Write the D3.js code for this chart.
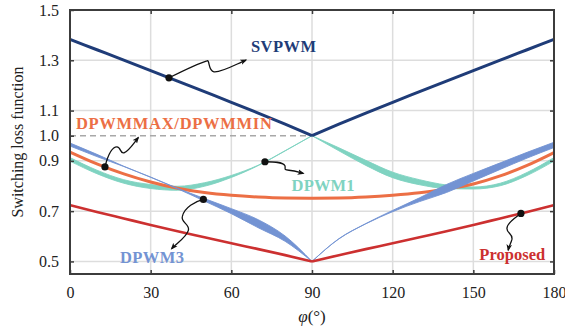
<!DOCTYPE html>
<html>
<head>
<meta charset="utf-8">
<script src="https://cdn.jsdelivr.net/npm/d3@7"></script>
<style>
  body { margin: 0; background: #fff; }
  svg { display: block; }
  text { font-family: "Liberation Serif", "Times New Roman", serif; }
</style>
</head>
<body>
<svg id="chart" width="565" height="335"></svg>
<script>
// Load angle (degrees) at which each curve is sampled
const phi = [0, 10, 20, 30, 40, 50, 60, 70, 80, 90, 100, 110, 120, 130, 140, 150, 160, 170, 180];

// Switching loss function of each modulation scheme
const svpwm      = [1.383, 1.342, 1.301, 1.259, 1.217, 1.175, 1.133, 1.090, 1.046, 1.000,
                    1.046, 1.090, 1.133, 1.175, 1.217, 1.259, 1.301, 1.342, 1.383];
const dpwmMaxMin = [0.935, 0.888, 0.848, 0.816, 0.791, 0.774, 0.763, 0.756, 0.752, 0.751,
                    0.752, 0.756, 0.763, 0.773, 0.788, 0.808, 0.840, 0.882, 0.933];
const proposed   = [0.724, 0.697, 0.671, 0.645, 0.620, 0.596, 0.572, 0.549, 0.525, 0.500,
                    0.525, 0.549, 0.572, 0.596, 0.620, 0.645, 0.671, 0.697, 0.724];

// DPWM1 and DPWM3 spread over a band (lower / upper bound)
const dpwm1Lo = [0.899, 0.849, 0.811, 0.790, 0.783, 0.799, 0.834, 0.8812, 0.9395, 1.000,
                 0.940, 0.882, 0.833, 0.805, 0.790, 0.788, 0.801, 0.842, 0.899];
const dpwm1Hi = [0.913, 0.863, 0.825, 0.806, 0.799, 0.813, 0.842, 0.8828, 0.9405, 1.000,
                 0.952, 0.902, 0.855, 0.825, 0.804, 0.796, 0.811, 0.854, 0.913];
const dpwm3Lo = [0.959, 0.917, 0.8775, 0.8345, 0.789, 0.740, 0.690, 0.634, 0.580, 0.500,
                 0.5895, 0.6495, 0.698, 0.738, 0.774, 0.820, 0.866, 0.911, 0.953];
const dpwm3Hi = [0.971, 0.926, 0.8785, 0.8355, 0.791, 0.750, 0.710, 0.666, 0.601, 0.500,
                 0.5905, 0.6505, 0.703, 0.753, 0.806, 0.850, 0.892, 0.934, 0.974];

// Axis ticks
const xTicks = [0, 30, 60, 90, 120, 150, 180];
const yTicks = [0.5, 0.7, 0.9, 1.0, 1.1, 1.3, 1.5];
const yGrid  = [0.5, 0.7, 0.9, 1.1, 1.3];

const colors = {
  svpwm: "#1f3c78",
  dpwmMaxMin: "#ec6f45",
  dpwm1: "#7fd3c1",
  dpwm3: "#7393d3",
  proposed: "#cc3030",
  frame: "#3c3c3c",
  grid: "#dddddd",
  ref: "#a8a8a8"
};

const svg = d3.select("#chart");
const x = d3.scaleLinear().domain([0, 180]).range([70, 554]);
const y = d3.scaleLinear().domain([0.45, 1.5]).range([274, 10]);

// Each curve has a cusp at 90 deg, so it is drawn as two smooth halves
const mid = phi.indexOf(90);
function halves(rows) {
  return [rows.slice(0, mid + 1), rows.slice(mid)];
}
const pts = vals => phi.map((p, i) => [p, vals[i]]);
const band = (lo, hi) => phi.map((p, i) => [p, lo[i], hi[i]]);

const line = d3.line().x(d => x(d[0])).y(d => y(d[1])).curve(d3.curveMonotoneX);
const area = d3.area().x(d => x(d[0])).y0(d => y(d[1])).y1(d => y(d[2])).curve(d3.curveMonotoneX);

// Grid
const grid = svg.append("g");
grid.selectAll(".gx").data(xTicks.slice(1, -1)).join("line")
  .attr("x1", d => x(d)).attr("x2", d => x(d))
  .attr("y1", y.range()[1]).attr("y2", y.range()[0])
  .attr("stroke", colors.grid).attr("stroke-width", 1.5);
grid.selectAll(".gy").data(yGrid).join("line")
  .attr("x1", x.range()[0]).attr("x2", x.range()[1])
  .attr("y1", d => y(d)).attr("y2", d => y(d))
  .attr("stroke", colors.grid).attr("stroke-width", 1.5);

// Reference level 1.0 (dashed), up to 90 deg
svg.append("line")
  .attr("x1", x(0)).attr("x2", x(90))
  .attr("y1", y(1.0)).attr("y2", y(1.0))
  .attr("stroke", colors.ref).attr("stroke-width", 1.5)
  .attr("stroke-dasharray", "6,4");

const curves = svg.append("g");

// DPWM1 band
halves(band(dpwm1Lo, dpwm1Hi)).forEach(h => {
  curves.append("path").attr("d", area(h))
    .attr("fill", colors.dpwm1).attr("stroke", colors.dpwm1).attr("stroke-width", 0.9);
});
// DPWMMAX / DPWMMIN
halves(pts(dpwmMaxMin)).forEach(h => {
  curves.append("path").attr("d", line(h))
    .attr("fill", "none").attr("stroke", colors.dpwmMaxMin).attr("stroke-width", 3);
});
// DPWM3 band
halves(band(dpwm3Lo, dpwm3Hi)).forEach(h => {
  curves.append("path").attr("d", area(h))
    .attr("fill", colors.dpwm3).attr("stroke", colors.dpwm3).attr("stroke-width", 0.9);
});
// Proposed
halves(pts(proposed)).forEach(h => {
  curves.append("path").attr("d", line(h))
    .attr("fill", "none").attr("stroke", colors.proposed).attr("stroke-width", 2.6);
});
// SVPWM
halves(pts(svpwm)).forEach(h => {
  curves.append("path").attr("d", line(h))
    .attr("fill", "none").attr("stroke", colors.svpwm).attr("stroke-width", 3);
});

// Axes with inward ticks on all four sides
function styleAxis(g) {
  g.select(".domain").remove();
  g.selectAll(".tick line").attr("stroke", colors.frame).attr("stroke-width", 1.5);
  g.selectAll(".tick text").attr("fill", "#222").style("font-size", "16px")
    .style("font-family", '"Liberation Serif", serif');
}
svg.append("g").attr("transform", `translate(0,${y.range()[0]})`)
  .call(d3.axisBottom(x).tickValues(xTicks).tickSize(-4).tickPadding(13).tickFormat(d3.format("d")))
  .call(styleAxis);
svg.append("g").attr("transform", `translate(0,${y.range()[1]})`)
  .call(d3.axisTop(x).tickValues(xTicks.slice(1, -1)).tickSize(-4).tickFormat(""))
  .call(styleAxis);
svg.append("g").attr("transform", `translate(${x.range()[0]},0)`)
  .call(d3.axisLeft(y).tickValues(yTicks).tickSize(-4).tickPadding(11).tickFormat(d3.format(".1f")))
  .call(styleAxis);
svg.append("g").attr("transform", `translate(${x.range()[1]},0)`)
  .call(d3.axisRight(y).tickValues(yGrid).tickSize(-4).tickFormat(""))
  .call(styleAxis);

// Frame
svg.append("rect")
  .attr("x", x.range()[0]).attr("y", y.range()[1])
  .attr("width", x.range()[1] - x.range()[0]).attr("height", y.range()[0] - y.range()[1])
  .attr("fill", "none").attr("stroke", colors.frame).attr("stroke-width", 2);

// Axis titles
svg.append("text")
  .attr("transform", `translate(17,${(y.range()[0] + y.range()[1]) / 2}) rotate(-90)`)
  .attr("text-anchor", "middle").attr("dominant-baseline", "central")
  .attr("fill", "#222").style("font-size", "16px")
  .text("Switching loss function");
const xt = svg.append("text")
  .attr("x", x(90)).attr("y", 322).attr("text-anchor", "middle")
  .attr("fill", "#222").style("font-size", "17px");
xt.append("tspan").attr("font-style", "italic").text("φ");
xt.append("tspan").text("(°)");

// Series labels (bold, set to a fixed width each)
const labels = [
  { text: "SVPWM", phi: 67.3, v: 1.333, width: 65, color: colors.svpwm },
  { text: "DPWMMAX/DPWMMIN", phi: 2.2, v: 1.025, width: 196, color: colors.dpwmMaxMin },
  { text: "DPWM1", phi: 82.4, v: 0.781, width: 63, color: colors.dpwm1 },
  { text: "DPWM3", phi: 18.6, v: 0.4926, width: 64, color: colors.dpwm3 },
  { text: "Proposed", phi: 152.2, v: 0.5057, width: 66, color: colors.proposed }
];
svg.append("g").selectAll("text").data(labels).join("text")
  .attr("x", d => x(d.phi)).attr("y", d => y(d.v))
  .attr("fill", d => d.color)
  .attr("textLength", d => d.width).attr("lengthAdjust", "spacing")
  .style("font-size", "16.5px").style("font-weight", "bold")
  .text(d => d.text);

// Pointer arrows: a dot on the curve and a wavy leader ending in an arrowhead
svg.append("defs").append("marker")
  .attr("id", "head").attr("viewBox", "0 0 10 10")
  .attr("refX", 8).attr("refY", 5)
  .attr("markerWidth", 7).attr("markerHeight", 7)
  .attr("markerUnits", "userSpaceOnUse")
  .attr("orient", "auto")
  .append("path").attr("d", "M0,1 L10,5 L0,9 L2.5,5 Z").attr("fill", "#111");

const mean = (a, b) => a.map((v, i) => (v + b[i]) / 2);
function valueAt(vals, p) {
  return d3.scaleLinear().domain(phi).range(vals)(p);
}
const pointers = [
  { vals: svpwm, at: 36.8,
    d: "M0,0 C10,-5 28,-14 38,-17 C41,-18 39,-7 45,-6 C52,-5 66,-13 77,-17.7" },
  { vals: dpwmMaxMin, at: 13.0,
    d: "M0,0 C2,-8 6,-20 12,-20 C16,-20 15,-13 19,-14 C24,-16 29,-24 33.3,-29.3" },
  { vals: mean(dpwm1Lo, dpwm1Hi), at: 72.5,
    d: "M0,0 C8,0 18,0 20,4 C21,7 18,8 24,8.5 C30,9 34,10.5 38.3,11.7" },
  { vals: mean(dpwm3Lo, dpwm3Hi), at: 49.6,
    d: "M0,0 C-8,2 -19,8 -21,17 C-23,23 -13,25 -15,31 C-17,38 -27,44 -31.7,49.3" },
  { vals: proposed, at: 167.7,
    d: "M0,0 C-5,4 -14,9 -14,15 C-14,20 -8,20 -9,26 C-10,30 -12,33 -12.7,36.7" }
];
const pg = svg.append("g");
pointers.forEach(p => {
  const g = pg.append("g")
    .attr("transform", `translate(${x(p.at)},${y(valueAt(p.vals, p.at))})`);
  g.append("path").attr("d", p.d)
    .attr("fill", "none").attr("stroke", "#111").attr("stroke-width", 1.3)
    .attr("marker-end", "url(#head)");
  g.append("circle").attr("r", 3.6).attr("fill", "#111");
});
</script>
</body>
</html>
